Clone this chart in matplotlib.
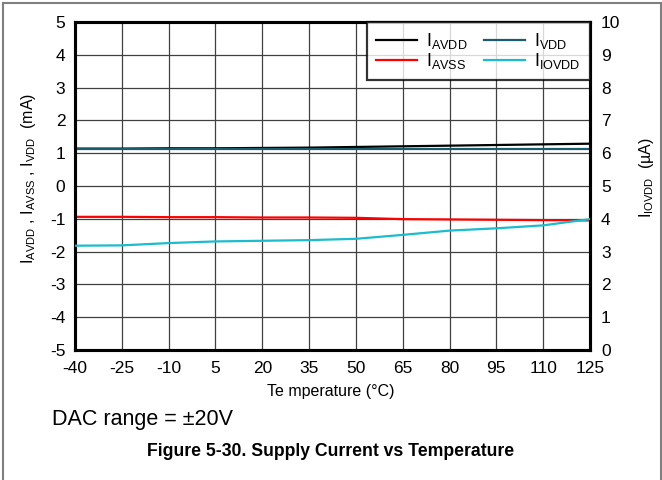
import numpy as np
import matplotlib
matplotlib.use("Agg")
import matplotlib.pyplot as plt
from matplotlib.lines import Line2D

plt.rcParams['font.family'] = ['Liberation Sans', 'DejaVu Sans']
plt.rcParams['mathtext.fontset'] = 'custom'
plt.rcParams['mathtext.rm'] = 'Liberation Sans'
plt.rcParams['mathtext.it'] = 'Liberation Sans'
plt.rcParams['axes.unicode_minus'] = False

# temperature (°C)
temp = [-40, -25, -10, 5, 20, 35, 50, 65, 80, 95, 110, 125]
# left axis currents (mA)
i_avdd = [1.14, 1.14, 1.15, 1.15, 1.16, 1.17, 1.19, 1.21, 1.23, 1.25, 1.27, 1.29]
i_avss = [-0.94, -0.94, -0.95, -0.95, -0.96, -0.96, -0.97, -1.01, -1.02, -1.03, -1.04, -1.05]
i_vdd = [1.12, 1.12, 1.12, 1.12, 1.12, 1.12, 1.12, 1.12, 1.12, 1.12, 1.12, 1.12]
# right axis current (µA)
i_iovdd = [3.18, 3.19, 3.26, 3.31, 3.33, 3.35, 3.39, 3.51, 3.64, 3.71, 3.80, 3.99]

xticks = [-40, -25, -10, 5, 20, 35, 50, 65, 80, 95, 110, 125]

fig = plt.figure(figsize=(6.62, 4.8), dpi=100)
ax = fig.add_axes([75/662, 1 - 350/480, 515/662, 328/480])
ax2 = ax.twinx()

l1, = ax.plot(temp, i_avdd, color='black', lw=1.6, zorder=3)
l2, = ax.plot(temp, i_avss, color='#ff0000', lw=1.6, zorder=3)
l3, = ax.plot(temp, i_vdd, color='#1c5b6b', lw=1.6, zorder=3)
l4, = ax2.plot(temp, i_iovdd, color='#1cbccc', lw=1.6, zorder=3)

ax.set_xlim(-40, 125)
ax.set_ylim(-5, 5)
ax2.set_ylim(0, 10)
ax.set_xticks(xticks)
ax.set_yticks(range(-5, 6))
ax2.set_yticks(range(0, 11))
ax.grid(True, color='#404040', lw=0.9)
ax.set_axisbelow(True)

ax.tick_params(axis='both', length=0, labelsize=12.5)
ax.tick_params(axis='x', pad=8)
ax.tick_params(axis='y', pad=7)
ax2.tick_params(axis='y', length=0, labelsize=12.5, pad=8)

for a in (ax, ax2):
    for sp in a.spines.values():
        sp.set_linewidth(2.2)

ax.set_xlabel('Te mperature (°C)', fontsize=11.5)
ax.xaxis.set_label_coords(0.497, -0.105)
ax.set_ylabel(r'$\mathregular{I_{AVDD}}$ , $\mathregular{I_{AVSS}}$ , $\mathregular{I_{VDD}}$  (mA)', fontsize=11.5)
ax.yaxis.set_label_coords(-0.072, 0.524)
ax2.set_ylabel(r'$\mathregular{I_{IOVDD}}$  (µA)', fontsize=11.5, rotation=90)
ax2.yaxis.set_label_coords(1.091, 0.527)

leg = ax2.legend([l1, l2, l3, l4],
                 [r'$\mathregular{I_{AVDD}}$', r'$\mathregular{I_{AVSS}}$',
                  r'$\mathregular{I_{VDD}}$', r'$\mathregular{I_{IOVDD}}$'],
                 loc='upper right', ncol=2, borderaxespad=0, fancybox=False,
                 fontsize=13, handlelength=2.3, labelspacing=0.0,
                 columnspacing=0.9, handletextpad=0.5, borderpad=0.5)
leg.get_frame().set_edgecolor('black')
leg.get_frame().set_linewidth(1.6)

fig.text(52/662, 1 - 420/480, 'DAC range = ±20V', fontsize=15.5, va='center', ha='left')
fig.text(331/662, 1 - 451/480, 'Figure 5-30. Supply Current vs Temperature',
         fontsize=12.7, fontweight='bold', va='center', ha='center')

# outer frame
for xs, ys in [([3/662, 3/662], [0, 1 - 3/480]),
               ([3/662, 1 - 1/662], [1 - 3/480, 1 - 3/480]),
               ([1 - 1/662, 1 - 1/662], [0, 1 - 3/480])]:
    fig.add_artist(Line2D(xs, ys, color='#808080', lw=1.5))

fig.savefig('out.png', dpi=100)
